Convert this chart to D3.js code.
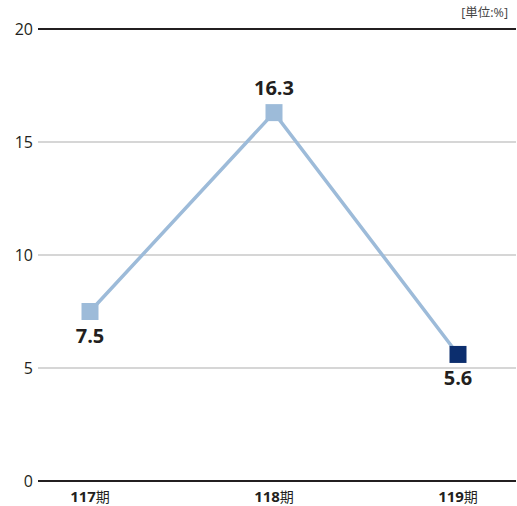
<!DOCTYPE html>
<html>
<head>
<meta charset="utf-8">
<script src="https://cdn.jsdelivr.net/npm/d3@7"></script>
<style>
  body { margin: 0; background: #fff; }
  svg { display: block; font-family: "Open Sans", "Noto Sans", "Noto Sans CJK JP", sans-serif; }
</style>
</head>
<body>
<svg id="chart" width="517" height="506"></svg>
<script>
// データ
var periods = ["117", "118", "119"];
var values = [7.5, 16.3, 5.6];
var yTicks = [0, 5, 10, 15, 20];
var unitLabel = "[単位:%]";

var svg = d3.select("#chart");

var x = d3.scalePoint().domain(periods).range([90, 458]);
var y = d3.scaleLinear().domain([0, 20]).range([481, 29]);

// グリッド線
svg.selectAll(".grid")
    .data(yTicks)
    .enter()
    .append("line")
    .attr("x1", 38)
    .attr("x2", 516)
    .attr("y1", function (d) { return y(d); })
    .attr("y2", function (d) { return y(d); })
    .attr("stroke", function (d) { return (d === 0 || d === 20) ? "#231f20" : "#c9c9c9"; })
    .attr("stroke-width", function (d) { return (d === 0 || d === 20) ? 2 : 1.5; });

// Y軸ラベル
var yAxis = svg.append("g")
    .attr("transform", "translate(33,0)")
    .call(d3.axisLeft(y).tickValues(yTicks).tickSize(0).tickPadding(0));
yAxis.select(".domain").remove();
yAxis.selectAll("text")
    .attr("font-size", 16)
    .attr("font-family", "Open Sans, sans-serif")
    .attr("fill", "#231f20");

// 単位
svg.append("text")
    .attr("x", 508)
    .attr("y", 17)
    .attr("text-anchor", "end")
    .attr("font-size", 12.5)
    .attr("fill", "#444")
    .text(unitLabel);

// X軸ラベル
var xl = svg.selectAll(".xlab")
    .data(periods)
    .enter()
    .append("text")
    .attr("x", function (d) { return x(d); })
    .attr("y", 502)
    .attr("text-anchor", "middle")
    .attr("fill", "#231f20");
xl.append("tspan")
    .attr("font-weight", "bold")
    .attr("font-size", 15)
    .text(function (d) { return d; });
xl.append("tspan")
    .attr("font-size", 14)
    .attr("font-family", "Noto Sans CJK JP, sans-serif")
    .text("期");

// 折れ線
var line = d3.line()
    .x(function (d, i) { return x(periods[i]); })
    .y(function (d) { return y(d); });

svg.append("path")
    .datum(values)
    .attr("d", line)
    .attr("fill", "none")
    .attr("stroke", "#9dbbd9")
    .attr("stroke-width", 3.5);

// マーカー
var s = 17;
svg.selectAll(".pt")
    .data(values)
    .enter()
    .append("rect")
    .attr("x", function (d, i) { return x(periods[i]) - s / 2; })
    .attr("y", function (d) { return y(d) - s / 2; })
    .attr("width", s)
    .attr("height", s)
    .attr("fill", function (d, i) { return i === values.length - 1 ? "#0c2e6e" : "#9dbbd9"; });

// 値ラベル
svg.selectAll(".val")
    .data(values)
    .enter()
    .append("text")
    .attr("x", function (d, i) { return x(periods[i]); })
    .attr("y", function (d, i) { return i === 1 ? y(d) - 18 : y(d) + 31; })
    .attr("text-anchor", "middle")
    .attr("font-size", 20)
    .attr("font-weight", "bold")
    .attr("fill", "#231f20")
    .text(function (d) { return d.toFixed(1); });
</script>
</body>
</html>
